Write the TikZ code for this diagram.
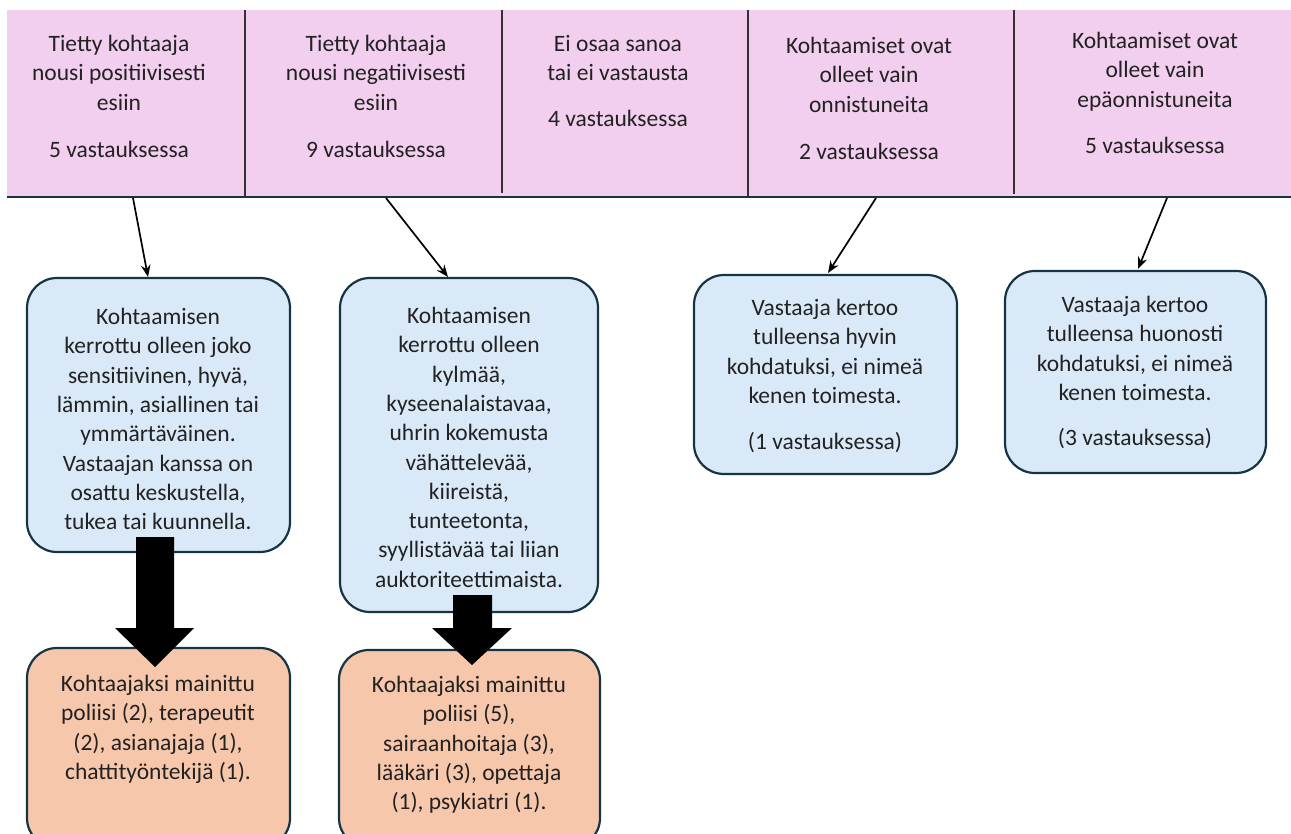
\documentclass[tikz,border=0pt]{standalone}
\usepackage{fontspec}
\setmainfont{Carlito}
\usetikzlibrary{arrows.meta}
\definecolor{pinkband}{HTML}{F2CEEF}
\definecolor{bluefill}{HTML}{DAE9F8}
\definecolor{orangefill}{HTML}{F7C7AC}
\definecolor{edge}{HTML}{163544}
\definecolor{txt}{HTML}{222222}
\begin{document}
\begin{tikzpicture}[x=1pt,y=-1pt,
  lbl/.style={align=center,text=txt,font=\fontsize{23.5}{29.3}\selectfont,inner sep=0pt},
  bluebox/.style={draw=edge,line width=2.2pt,fill=bluefill,rounded corners=30pt},
  orangebox/.style={draw=edge,line width=2.2pt,fill=orangefill,rounded corners=30pt},
  thinarrow/.style={line width=1.7pt,-{Stealth[length=12pt,width=9.5pt]}},
  divider/.style={line width=1.3pt,draw=black!80}]
\useasboundingbox (0,0) rectangle (1291,834);
\fill[white] (0,0) rectangle (1291,834);
\begin{scope}
\clip (0,0) rectangle (1291,834);
% top band
\fill[pinkband] (7,10) rectangle (1291,197);
\draw[divider] (245,10) -- (245,196);
\draw[divider] (502,10) -- (502,193);
\draw[divider] (748,10) -- (748,196);
\draw[divider] (1014,10) -- (1014,194);
\draw[edge,line width=2.6pt] (7,197) -- (1291,197);
% top cell texts
\node[lbl,anchor=north] (c1) at (119,35) {Tietty kohtaaja\\nousi positiivisesti\\esiin\\[18pt]5 vastauksessa};
\node[lbl,anchor=north] (c2) at (376,35) {Tietty kohtaaja\\nousi negatiivisesti\\esiin\\[18pt]9 vastauksessa};
\node[lbl,anchor=north] (c3) at (618,35) {Ei osaa sanoa\\tai ei vastausta\\[17pt]4 vastauksessa};
\node[lbl,anchor=north] (c4) at (869,37) {Kohtaamiset ovat\\olleet vain\\onnistuneita\\[18pt]2 vastauksessa};
\node[lbl,anchor=north] (c5) at (1155,32) {Kohtaamiset ovat\\olleet vain\\epäonnistuneita\\[17pt]5 vastauksessa};
% anchor points on band bottom
\coordinate (s1) at (133,198);
\coordinate (s2) at (386,198);
\coordinate (s4) at (876,198);
\coordinate (s5) at (1167,198);
% blue boxes
\draw[bluebox] (27,278) rectangle (290,552);
\draw[bluebox] (340,278) rectangle (598,612);
\draw[bluebox] (694,275) rectangle (957,474);
\draw[bluebox] (1005,271) rectangle (1266,473);
\coordinate (b1) at (148,277);
\coordinate (b2) at (448,277);
\coordinate (b3) at (828,273);
\coordinate (b4) at (1138,269);
\node[lbl,anchor=north] (t1) at (158,308) {Kohtaamisen\\kerrottu olleen joko\\sensitiivinen, hyvä,\\lämmin, asiallinen tai\\ymmärtäväinen.\\Vastaajan kanssa on\\osattu keskustella,\\tukea tai kuunnella.};
\node[lbl,anchor=north] (t2) at (469,307) {Kohtaamisen\\kerrottu olleen\\kylmää,\\kyseenalaistavaa,\\uhrin kokemusta\\vähättelevää,\\kiireistä,\\tunteetonta,\\syyllistävää tai liian\\auktoriteettimaista.};
\node[lbl,anchor=north] (t3) at (825,299) {Vastaaja kertoo\\tulleensa hyvin\\kohdatuksi, ei nimeä\\kenen toimesta.\\[17pt](1 vastauksessa)};
\node[lbl,anchor=north] (t4) at (1135,296) {Vastaaja kertoo\\tulleensa huonosti\\kohdatuksi, ei nimeä\\kenen toimesta.\\[16pt](3 vastauksessa)};
% orange boxes
\draw[orangebox] (27,648) rectangle (290,848);
\draw[orangebox] (339,650) rectangle (600,848);
\node[lbl,anchor=north] (o1) at (158,675) {Kohtaajaksi mainittu\\poliisi (2), terapeutit\\(2), asianajaja (1),\\chattityöntekijä (1).};
\node[lbl,anchor=north] (o2) at (469,676) {Kohtaajaksi mainittu\\poliisi (5),\\sairaanhoitaja (3),\\lääkäri (3), opettaja\\(1), psykiatri (1).};
% thin arrows
\draw[thinarrow] (s1) -- (b1);
\draw[thinarrow] (s2) -- (b2);
\draw[thinarrow] (s4) -- (b3);
\draw[thinarrow] (s5) -- (b4);
% thick block arrows
\fill[black] (136,537) -- (174,537) -- (174,628) -- (194,628) -- (155,667) -- (115,628) -- (136,628) -- cycle;
\fill[black] (453,595) -- (492,595) -- (492,628) -- (512,628) -- (472,665) -- (432,628) -- (453,628) -- cycle;
\end{scope}
\end{tikzpicture}
\end{document}
